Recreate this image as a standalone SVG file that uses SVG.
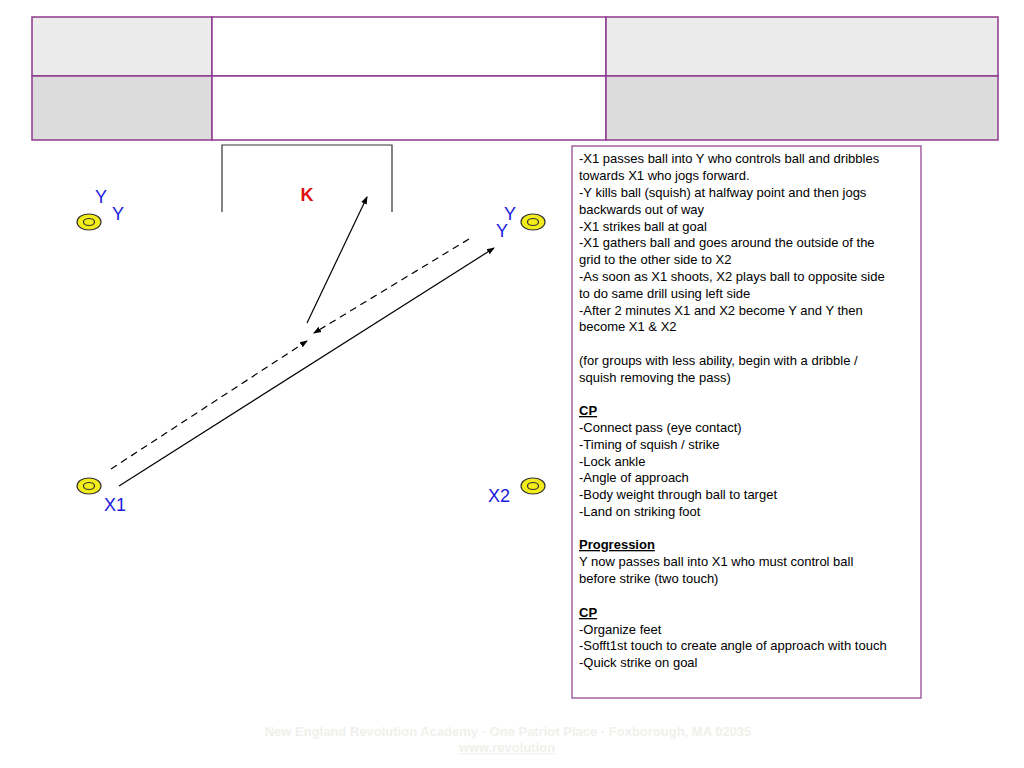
<svg xmlns="http://www.w3.org/2000/svg" width="1024" height="768" viewBox="0 0 1024 768">
<style>
.t{font-family:"Liberation Sans",Arial,sans-serif;font-size:13px;fill:#000}
.lbl{font-family:"Liberation Sans",Arial,sans-serif;font-size:18px;fill:#1a1adc}
.cone{fill:#f2ec1a;stroke:#333;stroke-width:1.2}
.ln{stroke:#000;stroke-width:1.2;fill:none}
.gr{stroke:#8e3a8e;stroke-width:1.5}
</style>
<defs><marker id="ah" markerWidth="8" markerHeight="8" refX="7" refY="4" orient="auto" markerUnits="userSpaceOnUse"><path d="M0,1 L8,4 L0,7 Z" fill="#000"/></marker></defs>
<rect width="1024" height="768" fill="#fff"/>
<g id="table">
<rect x="32" y="17" width="180" height="59" fill="#ebebeb" class="gr"/>
<rect x="212" y="17" width="394" height="59" fill="#fff" class="gr"/>
<rect x="606" y="17" width="392" height="59" fill="#ebebeb" class="gr"/>
<rect x="32" y="76" width="180" height="64" fill="#dcdcdc" class="gr"/>
<rect x="212" y="76" width="394" height="64" fill="#fff" class="gr"/>
<rect x="606" y="76" width="392" height="64" fill="#dcdcdc" class="gr"/>
</g>
<g id="goal"><path d="M222,212 V145 H392 V212" stroke="#333" stroke-width="1.2" fill="none"/>
<text x="307" y="201" text-anchor="middle" font-family="Liberation Sans,Arial,sans-serif" font-size="18" font-weight="bold" fill="#e01010">K</text></g>
<g id="cone-tl"><ellipse cx="89" cy="222" rx="12" ry="8" class="cone"/><ellipse cx="89" cy="222" rx="5.5" ry="3.5" class="cone"/>
<text x="95" y="203" class="lbl">Y</text><text x="112" y="220" class="lbl">Y</text></g>
<g id="cone-tr"><ellipse cx="533" cy="222" rx="12" ry="8" class="cone"/><ellipse cx="533" cy="222" rx="5.5" ry="3.5" class="cone"/>
<text x="504" y="220" class="lbl">Y</text><text x="496" y="237" class="lbl">Y</text></g>
<g id="cone-x1"><ellipse cx="89" cy="486" rx="12" ry="8" class="cone"/><ellipse cx="89" cy="486" rx="5.5" ry="3.5" class="cone"/>
<text x="104" y="511" class="lbl">X1</text></g>
<g id="cone-x2"><ellipse cx="533" cy="486" rx="12" ry="8" class="cone"/><ellipse cx="533" cy="486" rx="5.5" ry="3.5" class="cone"/>
<text x="488" y="502" class="lbl">X2</text></g>
<g id="connectors">
<line x1="307" y1="323" x2="367" y2="197" class="ln" marker-end="url(#ah)"/>
<line x1="469" y1="239" x2="314" y2="333" class="ln" stroke-dasharray="7,5" marker-end="url(#ah)"/>
<line x1="119" y1="486" x2="494" y2="248" class="ln" marker-end="url(#ah)"/>
<line x1="111" y1="469" x2="307" y2="341" class="ln" stroke-dasharray="7,5" marker-end="url(#ah)"/>
</g>
<g id="notes">
<rect x="572" y="146" width="349" height="552" fill="#fff" stroke="#8e3a8e" stroke-width="1.2"/>
<text class="t">
<tspan x="579" y="163">-X1 passes ball into Y who controls ball and dribbles</tspan>
<tspan x="579" y="180">towards X1 who jogs forward.</tspan>
<tspan x="579" y="197">-Y kills ball (squish) at halfway point and then jogs</tspan>
<tspan x="579" y="214">backwards out of way</tspan>
<tspan x="579" y="231">-X1 strikes ball at goal</tspan>
<tspan x="579" y="247">-X1 gathers ball and goes around the outside of the</tspan>
<tspan x="579" y="264">grid to the other side to X2</tspan>
<tspan x="579" y="281">-As soon as X1 shoots, X2 plays ball to opposite side</tspan>
<tspan x="579" y="298">to do same drill using left side</tspan>
<tspan x="579" y="315">-After 2 minutes X1 and X2 become Y and Y then</tspan>
<tspan x="579" y="331">become X1 &amp; X2</tspan>
<tspan x="579" y="365">(for groups with less ability, begin with a dribble /</tspan>
<tspan x="579" y="382">squish removing the pass)</tspan>
<tspan x="579" y="415" font-weight="bold" text-decoration="underline">CP</tspan>
<tspan x="579" y="432">-Connect pass (eye contact)</tspan>
<tspan x="579" y="449">-Timing of squish / strike</tspan>
<tspan x="579" y="466">-Lock ankle</tspan>
<tspan x="579" y="482">-Angle of approach</tspan>
<tspan x="579" y="499">-Body weight through ball to target</tspan>
<tspan x="579" y="516">-Land on striking foot</tspan>
<tspan x="579" y="549" font-weight="bold" text-decoration="underline">Progression</tspan>
<tspan x="579" y="566">Y now passes ball into X1 who must control ball</tspan>
<tspan x="579" y="583">before strike (two touch)</tspan>
<tspan x="579" y="617" font-weight="bold" text-decoration="underline">CP</tspan>
<tspan x="579" y="634">-Organize feet</tspan>
<tspan x="579" y="650">-Sofft1st touch to create angle of approach with touch</tspan>
<tspan x="579" y="667">-Quick strike on goal</tspan>
</text>
</g>
<g id="footer" font-family="Liberation Sans,Arial,sans-serif" font-size="13" font-weight="bold" fill="#f0f0ec" text-anchor="middle">
<text x="508" y="736">New England Revolution Academy · One Patriot Place · Foxborough, MA 02035</text>
<text x="507" y="752" text-decoration="underline">www.revolution</text>
</g>
</svg>
